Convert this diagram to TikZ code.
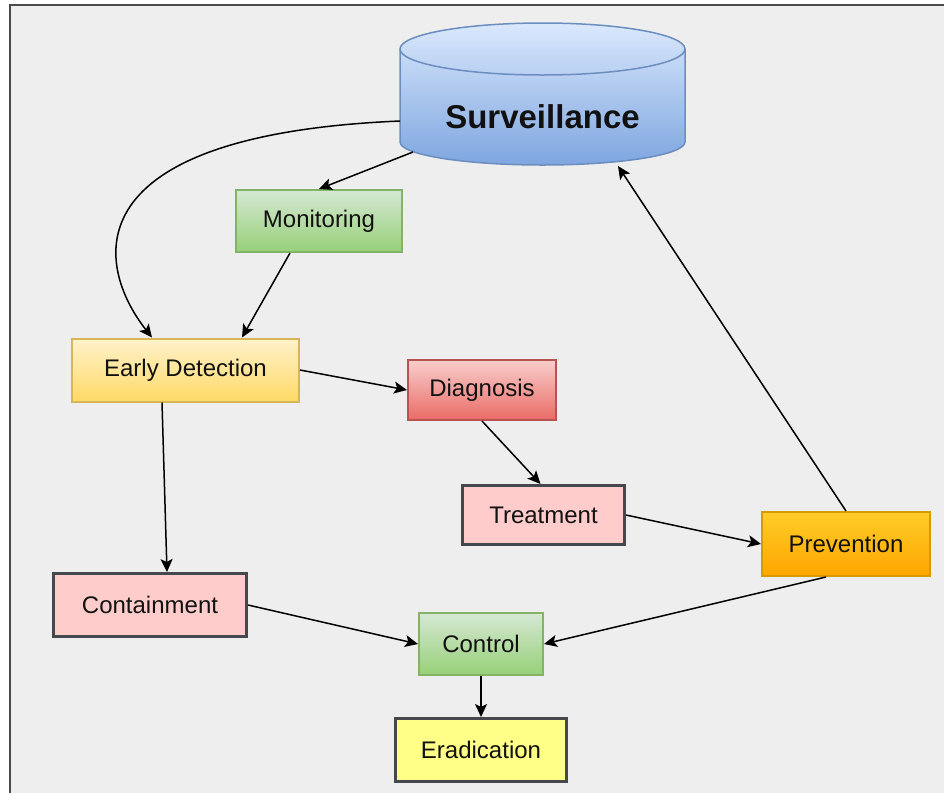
\documentclass[tikz,border=0pt]{standalone}
\usepackage{fontspec}
\setmainfont{Liberation Sans}
\usetikzlibrary{arrows.meta}
\definecolor{bgc}{HTML}{EEEEEE}
\definecolor{framec}{HTML}{4A4A4A}
\definecolor{gTop}{HTML}{D5E8D4}\definecolor{gBot}{HTML}{97D077}\definecolor{gBrd}{HTML}{82B366}
\definecolor{yTop}{HTML}{FFF2CC}\definecolor{yBot}{HTML}{FFD966}\definecolor{yBrd}{HTML}{D6B656}
\definecolor{rTop}{HTML}{F8CECC}\definecolor{rBot}{HTML}{EA6B66}\definecolor{rBrd}{HTML}{B85450}
\definecolor{oTop}{HTML}{FFCD28}\definecolor{oBot}{HTML}{FFA500}\definecolor{oBrd}{HTML}{D79B00}
\definecolor{bTop}{HTML}{DAE8FC}\definecolor{bBot}{HTML}{7EA6E0}\definecolor{bBrd}{HTML}{6C8EBF}
\definecolor{pinkF}{HTML}{FFCCCC}\definecolor{lemonF}{HTML}{FFFF88}\definecolor{darkB}{HTML}{45484C}
\definecolor{txt}{HTML}{111111}
\begin{document}
\begin{tikzpicture}[x=1pt,y=-1pt,
  box/.style={rectangle, inner sep=0pt, text=txt, font=\fontsize{24}{28}\selectfont},
  greenbox/.style={box, draw=gBrd, line width=2pt, top color=gTop, bottom color=gBot},
  yellowbox/.style={box, draw=yBrd, line width=2pt, top color=yTop, bottom color=yBot},
  redbox/.style={box, draw=rBrd, line width=2pt, top color=rTop, bottom color=rBot},
  orangebox/.style={box, draw=oBrd, line width=2pt, top color=oTop, bottom color=oBot},
  pinkbox/.style={box, draw=darkB, line width=3pt, fill=pinkF},
  lemonbox/.style={box, draw=darkB, line width=3pt, fill=lemonF},
  arr/.style={draw=black, line width=1.5pt, -{Stealth[length=13pt,width=12pt,inset=3pt]}}
]
\useasboundingbox (0,0) rectangle (944,793);
\fill[white] (0,0) rectangle (944,793);
\fill[bgc] (10,5) rectangle (944,793);
\draw[framec, line width=2pt] (10,793) -- (10,5) -- (944,5);

% Surveillance cylinder
\path[top color=bTop, bottom color=bBot, draw=bBrd, line width=1.5pt]
  (400,49) -- (400,142) arc[start angle=180, end angle=0, x radius=142.5, y radius=23]
  -- (685,49) arc[start angle=0, end angle=-180, x radius=142.5, y radius=26] -- cycle;
\draw[bBrd, line width=1.5pt] (400,49) arc[start angle=180, end angle=0, x radius=142.5, y radius=26];
\node[text=txt, font=\bfseries\fontsize{33}{38}\selectfont] (surv) at (542.5,117) {Surveillance};
\coordinate (sL) at (400,121);
\coordinate (sBL) at (413,152);
\coordinate (sBR) at (618,166);

% boxes
\node[greenbox, minimum width=166pt, minimum height=62pt] (mon) at (319,221) {Monitoring};
\node[yellowbox, minimum width=227pt, minimum height=63pt] (ed) at (185.5,370) {Early Detection};
\node[redbox, minimum width=148pt, minimum height=60pt] (diag) at (482,390) {Diagnosis};
\node[pinkbox, minimum width=162pt, minimum height=59pt] (treat) at (543.5,515) {Treatment};
\node[orangebox, minimum width=168pt, minimum height=64pt] (prev) at (846,544) {Prevention};
\node[pinkbox, minimum width=193pt, minimum height=63pt] (cont) at (150,605) {Containment};
\node[greenbox, minimum width=124pt, minimum height=62pt] (ctrl) at (481,644) {Control};
\node[lemonbox, minimum width=171pt, minimum height=63pt] (erad) at (481,750) {Eradication};

% connectors
\draw[arr] (sL) .. controls (70,135) and (95,265) .. ([xshift=-33.5pt]ed.north);
\draw[arr] (sBL) -- (mon.north);
\draw[arr] ([xshift=-29pt]mon.south) -- ([xshift=56.5pt]ed.north);
\draw[arr] (ed.east) -- (diag.west);
\draw[arr] ([xshift=-23.5pt]ed.south) -- ([xshift=17pt]cont.north);
\draw[arr] (diag.south) -- ([xshift=-3pt]treat.north);
\draw[arr] (treat.east) -- (prev.west);
\draw[arr] (prev.north) -- (sBR);
\draw[arr] ([xshift=-20pt]prev.south) -- (ctrl.east);
\draw[arr] (cont.east) -- (ctrl.west);
\draw[arr] (ctrl.south) -- (erad.north);
\end{tikzpicture}
\end{document}
